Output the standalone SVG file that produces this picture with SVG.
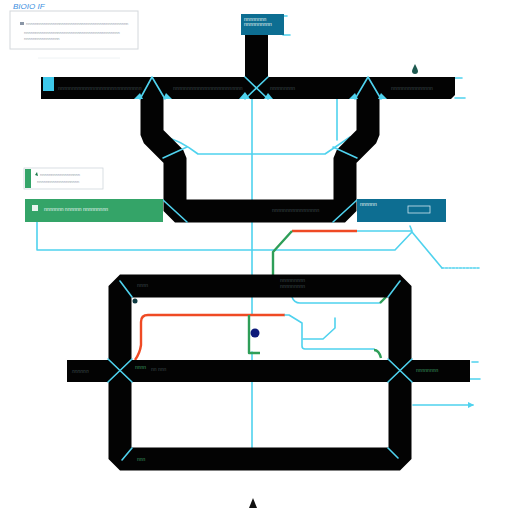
<svg xmlns="http://www.w3.org/2000/svg" width="512" height="512" viewBox="0 0 512 512">
<style>
.band{fill:none;stroke:#030303;stroke-width:23;stroke-linejoin:bevel}
.blk{fill:#030303}
.cy{fill:none;stroke:#4fd2ee;stroke-width:1.6;stroke-linejoin:round;stroke-linecap:round}
.cyt{fill:#4fd2ee}
.gr{fill:none;stroke:#2e9e58;stroke-width:2.4;stroke-linejoin:round}
.rd{fill:none;stroke:#ef4a24;stroke-width:2.4;stroke-linejoin:round}
.lbl{font-family:"Liberation Sans",sans-serif;font-size:5px;fill:#3c4a4c}
.wl{font-family:"Liberation Sans",sans-serif;font-size:5px;fill:#e8f4f0}
.gl{font-family:"Liberation Sans",sans-serif;font-size:5px;fill:#3a9a60}
.lg{font-family:"Liberation Sans",sans-serif;font-size:4px;fill:#9aa6b0}
</style>
<defs>
<marker id="ah" viewBox="0 0 6 6" refX="5" refY="3" markerWidth="4" markerHeight="4" orient="auto"><path d="M0,0L6,3L0,6Z" fill="#4fd2ee"/></marker>
</defs>

<g id="legend">
<text x="13" y="9" font-family="Liberation Sans, sans-serif" font-size="8" font-style="italic" fill="#3a8ee0">BIOIO IF</text>
<rect x="10" y="11" width="128" height="38" fill="#fff" stroke="#d4d8dc" stroke-width="1"/>
<rect x="20" y="22" width="4" height="3" fill="#8a96a6"/>
<text class="lg" x="26" y="25">nnnnnnnnnnnnnnnnnnnnnnnnnnnnnnnnnnnnnnnnnnnnnn</text>
<text class="lg" x="24" y="34">nnnnnnnnnnnnnnnnnnnnnnnnnnnnnnnnnnnnnnnnnnn</text>
<text class="lg" x="24" y="40">nnnnnnnnnnnnnnnn</text>
<line x1="38" y1="58" x2="120" y2="58" stroke="#eef2f4" stroke-width="1"/>
</g>

<g id="connectors">
<path class="cy" d="M252,99V315"/>
<path class="cy" d="M252,352V456"/>
<path class="cy" d="M160,135Q180,140 198,154H325L350,137"/>
<path class="cy" d="M337,99V140"/>
<path class="cy" d="M37,221V250H395L412,232"/>
<path class="cy" d="M412,232L442,268"/>
<path class="cy" d="M442,268H480" stroke-dasharray="2,1.5"/>
<path class="cy" d="M357,231H412L410,226"/>
<path class="rd" d="M292,231H357"/>
<path class="gr" d="M292,231L273,252V297"/>
<path class="rd" d="M285,315H148Q141,315 141,322V345Q140,353 135,360"/>
<path class="gr" d="M249,315V353H260"/>
<path class="cy" d="M285,315H289L302,323V346Q302,349 305,349H374"/>
<path class="gr" d="M374,350Q379,350 381,358" stroke-width="3"/>
<path class="cy" d="M335,318V328L323,339H303"/>
<path class="cy" d="M292,297Q294,303 300,303H380"/>
<path class="gr" d="M380,303L386,297" stroke-width="3"/>
<path class="cy" d="M413,405H473" marker-end="url(#ah)"/>
<path class="cy" d="M455,78H462"/>
<path class="cy" d="M455,98H465"/>
<path class="cy" d="M472,362H478"/>
<path class="cy" d="M470,379H480"/>
<path class="cy" d="M283,16H287"/>
<path class="cy" d="M283,35H290"/>
</g>

<g id="upper-structure">
<rect class="blk" x="245" y="34" width="23" height="44"/>
<path class="blk" d="M41,77H455V95L451,99H41Z"/>
<polyline class="band" points="152,99 152,135 175,158 175,211 345,211 345,158 368,135 368,99"/>
<path class="cy" d="M140,99L152,77L165,99"/>
<path class="cy" d="M245,77L268,99M268,77L245,99"/>
<path class="cy" d="M355,99L368,77L381,99"/>
<path class="cyt" d="M134,99L140,93L143,99Z"/>
<path class="cyt" d="M163,99L166,93L172,99Z"/>
<path class="cyt" d="M239,99L245,92L250,99Z"/>
<path class="cyt" d="M264,99L268,93L273,99Z"/>
<path class="cyt" d="M349,99L355,93L358,99Z"/>
<path class="cyt" d="M378,99L381,93L387,99Z"/>
<path class="cy" d="M163,158L187,147"/>
<path class="cy" d="M333,147L357,158"/>
<path class="cy" d="M163,200L187,222"/>
<path class="cy" d="M333,222L357,200"/>
<text class="lbl" x="58" y="90">nnnnnnnnnnnnnnnnnnnnnnnnnnnnnn</text>
<text class="lbl" x="173" y="90">nnnnnnnnnnnnnnnnnnnnnnnnn</text>
<text class="lbl" x="270" y="90">nnnnnnnnn</text>
<text class="lbl" x="391" y="90">nnnnnnnnnnnnnnn</text>
<text class="lbl" x="272" y="212">nnnnnnnnnnnnnnnnn</text>
</g>

<g id="node-top">
<rect x="241" y="14" width="43" height="21" fill="#0d6e92"/>
<text class="wl" x="244" y="21" font-size="4">nnnnnnnn</text>
<text class="wl" x="244" y="26" font-size="4">nnnnnnnnnn</text>
</g>

<g id="node-leftcap">
<rect x="43" y="77" width="11" height="14" fill="#3ec8ea"/>
</g>

<g id="node-green">
<rect x="25" y="199" width="138" height="23" fill="#34a468"/>
<rect x="32" y="205" width="6" height="6" fill="#e8f4ee"/>
<text class="wl" x="44" y="211">nnnnnnn nnnnnn nnnnnnnnn</text>
</g>

<g id="node-blue">
<rect x="357" y="199" width="89" height="23" fill="#0d6e92"/>
<text class="wl" x="360" y="206">nnnnnn</text>
<rect x="408" y="206" width="22" height="7" fill="none" stroke="#d0e6f0" stroke-width="0.8"/>
</g>

<g id="node-small-legend">
<rect x="24" y="168" width="79" height="21" fill="#fff" stroke="#d0d6dc" stroke-width="0.8"/>
<rect x="25" y="169" width="6" height="19" fill="#34a468"/>
<path d="M35,175L37,172L38,176Z" fill="#1a7a4a"/>
<text class="lg" x="40" y="176">nnnnnnnnnnnnnnnnnn</text>
<text class="lg" x="37" y="183">nnnnnnnnnnnnnnnnnnn</text>
</g>

<g id="lower-structure">
<path class="band" d="M120,286H400V459H120Z"/>
<rect class="blk" x="67" y="360" width="403" height="22"/>
<path class="cy" d="M108,359L132,382M132,359L108,382"/>
<path class="cy" d="M388,359L412,382M412,359L388,382"/>
<path class="cy" d="M120,281L132,297"/>
<path class="cy" d="M400,281L388,297"/>
<path class="cy" d="M132,448L122,460"/>
<path class="cy" d="M388,448L398,458"/>
<text class="lbl" x="137" y="287">nnnn</text>
<text class="lbl" x="280" y="282">nnnnnnnnn</text>
<text class="lbl" x="280" y="288">nnnnnnnnn</text>
<text class="lbl" x="72" y="373" font-style="italic">nnnnnn</text>
<text class="gl" x="135" y="369">nnnn</text>
<text class="lbl" x="151" y="371" font-size="3.5">nn nnn</text>
<text class="gl" x="416" y="372">nnnnnnnn</text>
<text class="gl" x="137" y="461">nnn</text>
</g>

<g id="markers">
<path d="M415,64Q418,70 418,71A3,3 0 0 1 412,71Q412,70 415,64Z" fill="#1e5a50"/>
<path d="M253,498L257,508H249Z" fill="#111"/>
<circle cx="255" cy="333" r="4.5" fill="#0c1a7a"/>
<circle cx="135" cy="301" r="2.5" fill="#0e3a40"/>
</g>
</svg>
